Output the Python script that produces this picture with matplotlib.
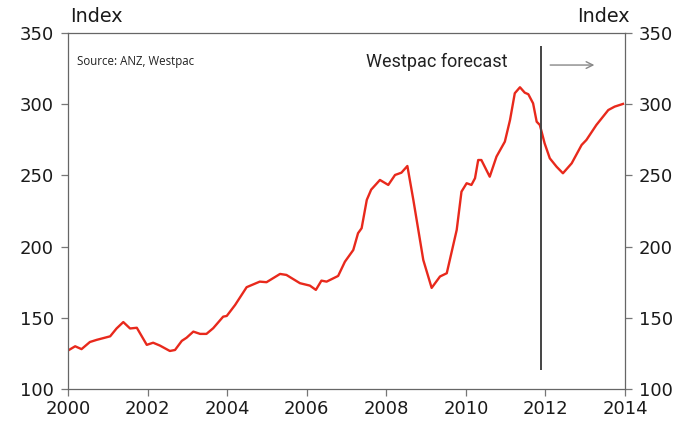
import matplotlib
matplotlib.use("Agg")
import matplotlib.pyplot as plt

years = [2000.0, 2000.18, 2000.34, 2000.55, 2000.72, 2001.06, 2001.22, 2001.39, 2001.56, 2001.73,
         2001.98, 2002.14, 2002.31, 2002.56, 2002.69, 2002.86, 2002.98, 2003.15, 2003.32, 2003.48,
         2003.65, 2003.90, 2003.99, 2004.20, 2004.49, 2004.82, 2004.99, 2005.33, 2005.49, 2005.83,
         2006.08, 2006.23, 2006.37, 2006.50, 2006.79, 2006.96, 2007.17, 2007.29, 2007.38, 2007.51,
         2007.62, 2007.75, 2007.84, 2008.05, 2008.22, 2008.38, 2008.53, 2008.68, 2008.93, 2009.14,
         2009.35, 2009.52, 2009.77, 2009.89, 2010.02, 2010.14, 2010.23, 2010.31, 2010.39, 2010.60,
         2010.77, 2010.98, 2011.11, 2011.23, 2011.36, 2011.48, 2011.57, 2011.69, 2011.78, 2011.86,
         2011.98, 2012.11, 2012.28, 2012.44, 2012.66, 2012.91, 2013.03, 2013.28, 2013.58, 2013.74,
         2013.95]
index_vals = [127, 130, 128, 133, 134.5, 137, 142.5, 147, 142.5, 143,
              131, 132.5, 130.5, 126.7, 127.4, 133.8, 136, 140.3, 138.7, 138.7,
              142.7, 150.8, 151.3, 159, 171.5, 175.4, 175, 180.8, 180.1, 174.3,
              172.6, 169.6, 176.1, 175.4, 179.4, 189.4, 197.6, 209.4, 212.9, 232.8,
              240, 244, 246.8, 243.3, 250.3, 251.9, 256.6, 232.8, 190.6, 171,
              179, 181.3, 211.7, 238.6, 244.5, 243.3, 248, 260.8, 260.8, 249.1,
              263.2, 273.7, 288.9, 307.7, 311.9, 308.1, 307, 300.6, 287.7, 285.4,
              272.5, 262, 256.1, 251.5, 258.5, 271.4, 274.9, 285.4, 295.9, 298.3,
              300.2]

x_ticks = [2000, 2002, 2004, 2006, 2008, 2010, 2012, 2014]
y_ticks = [100, 150, 200, 250, 300, 350]
forecast_start = 2011.88
forecast_line_range = (113, 341)
arrow_span = (2012.05, 2013.3)
arrow_level = 327.5

tick_font = ['DejaVu Sans']

fig = plt.figure(figsize=(6.84, 4.23), dpi=100)
ax = fig.add_axes([68/684, 1-389/423, (625-68)/684, (389-33)/423])

ax.plot(years, index_vals, color='#e8291c', lw=1.7, solid_joinstyle='round')

ax.set_xlim(2000, 2014)
ax.set_ylim(100, 350)
ax.set_xticks(x_ticks)
ax.set_yticks(y_ticks)
ax.set_xticklabels([str(t) for t in x_ticks], family=tick_font, fontsize=13)
ax.set_yticklabels([str(t) for t in y_ticks], family=tick_font, fontsize=13)

ax.tick_params(axis='both', direction='out', length=5, width=0.9, color='#777777',
               labelcolor='#1a1a1a', pad=3)
ax.tick_params(axis='y', right=True, labelright=True, pad=5)
for s in ax.spines.values():
    s.set_color('#666666')
    s.set_linewidth(0.9)

ax.vlines(forecast_start, forecast_line_range[0], forecast_line_range[1], color='#444444', lw=1.4)
ax.annotate('', xy=(arrow_span[1], arrow_level), xytext=(arrow_span[0], arrow_level),
            arrowprops=dict(arrowstyle='->', color='#888888', lw=1.0, mutation_scale=12))
ax.text(2011.06, 329.6, 'Westpac forecast', ha='right', va='center', fontsize=13,
        family=['Roboto', 'DejaVu Sans'], color='#222222')
ax.text(2000.22, 330, 'Source: ANZ, Westpac', ha='left', va='center', fontsize=8.3,
        family=['Open Sans', 'DejaVu Sans'], color='#222222')

fig.text(70/684, 1-17/423, 'Index', ha='left', va='center', fontsize=13.8,
         family=tick_font, color='#1a1a1a')
fig.text(630/684, 1-17/423, 'Index', ha='right', va='center', fontsize=13.8,
         family=tick_font, color='#1a1a1a')

fig.savefig('out.png', dpi=100)
